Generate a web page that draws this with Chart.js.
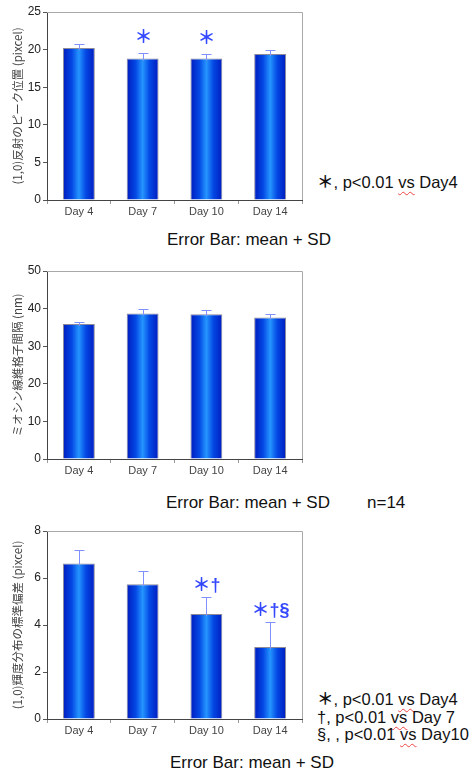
<!DOCTYPE html>
<html>
<head>
<meta charset="utf-8">
<script src="https://cdn.jsdelivr.net/npm/chart.js@4.4.1/dist/chart.umd.min.js"></script>
<style>
  body { margin: 0; background: #fff; width: 471px; height: 770px; position: relative; overflow: hidden;
         font-family: "Liberation Sans", "Noto Sans CJK JP", Arial, sans-serif; color: #111; }
  canvas { position: absolute; left: 0; }
  .note { position: absolute; font-size: 17px; line-height: 20px; white-space: nowrap; }
  .leg { position: absolute; left: 317px; font-size: 16.5px; line-height: 17.5px; white-space: nowrap; }
  .leg b { font-weight: 600; }
  .sp { text-decoration: underline wavy #e44; text-underline-offset: 3px; text-decoration-thickness: 1px; }
</style>
</head>
<body>
<canvas id="peak" width="310" height="225" style="top:0px"></canvas>
<canvas id="spacing" width="310" height="225" style="top:259px"></canvas>
<canvas id="spread" width="310" height="225" style="top:519px"></canvas>

<div class="leg" style="top:174px"><b>＊</b>, p&lt;0.01 <span class="sp">vs</span> Day4</div>
<div class="note" style="left:167px;top:230px">Error Bar: mean + SD</div>

<div class="note" style="left:166px;top:493px">Error Bar: mean + SD</div>
<div class="note" style="left:367px;top:493px">n=14</div>

<div class="leg" style="top:691px"><b>＊</b>, p&lt;0.01 <span class="sp">vs</span> Day4<br>†, p&lt;0.01 <span class="sp">vs</span> Day 7<br>§, , p&lt;0.01 <span class="sp">vs</span> Day10</div>
<div class="note" style="left:170px;top:753px">Error Bar: mean + SD</div>

<script>
'use strict';

/* DATA */
const days = ['Day 4', 'Day 7', 'Day 10', 'Day 14'];

const peakMean = [20.2, 18.8, 18.8, 19.4];
const peakSD = [0.5, 0.7, 0.55, 0.55];
const peakMarks = ['', '＊', '＊', ''];
const peakTicks = { max: 25, step: 5 };

const spacingMean = [35.9, 38.7, 38.5, 37.6];
const spacingSD = [0.6, 1.3, 1.0, 1.0];
const spacingMarks = ['', '', '', ''];
const spacingTicks = { max: 50, step: 10 };

const spreadMean = [6.62, 5.73, 4.47, 3.06];
const spreadSD = [0.57, 0.58, 0.72, 1.07];
const spreadMarks = ['', '', '＊†', '＊†§'];
const spreadTicks = { max: 8, step: 2 };

Chart.defaults.font.family = '"Liberation Sans", Arial, sans-serif';
Chart.defaults.color = '#333';

/* gradient fill for each bar, dark edges and light middle */
function barFill(ctx) {
  const chart = ctx.chart;
  const xs = chart.scales.x;
  if (ctx.type !== 'data' || !xs || !chart.chartArea) return '#0a3ee0';
  const cx = xs.getPixelForValue(ctx.dataIndex);
  const half = xs.width / days.length * 0.5 / 2;
  const g = chart.ctx.createLinearGradient(cx - half, 0, cx + half, 0);
  g.addColorStop(0, '#001cbf');
  g.addColorStop(0.28, '#0448e4');
  g.addColorStop(0.5, '#2595ff');
  g.addColorStop(0.72, '#0448e4');
  g.addColorStop(1, '#001cbf');
  return g;
}

/* frame, error bars (mean + SD) and significance marks */
const extras = {
  id: 'extras',
  afterDatasetsDraw(chart, args, opts) {
    const { ctx, chartArea: a, scales: { y } } = chart;
    ctx.save();
    ctx.strokeStyle = '#a8a8a8';
    ctx.lineWidth = 1;
    ctx.beginPath();
    ctx.moveTo(a.left, a.top + 0.5);
    ctx.lineTo(Math.round(a.right) + 0.5, a.top + 0.5);
    ctx.lineTo(Math.round(a.right) + 0.5, a.bottom);
    ctx.stroke();

    const meta = chart.getDatasetMeta(0);
    const vals = chart.data.datasets[0].data;
    opts.sd.forEach((s, i) => {
      const bar = meta.data[i];
      const top = Math.round(y.getPixelForValue(vals[i] + s)) + 0.5;
      const cx = Math.round(bar.x) + 0.5;
      ctx.strokeStyle = '#8190ff';
      ctx.beginPath();
      ctx.moveTo(cx, bar.y + 2);
      ctx.lineTo(cx, top);
      ctx.moveTo(cx - 5, top);
      ctx.lineTo(cx + 5, top);
      ctx.stroke();
      if (opts.marks[i]) {
        ctx.fillStyle = '#3347ff';
        ctx.font = 'bold 18px "Liberation Sans", "Noto Sans CJK JP"';
        ctx.textAlign = 'center';
        ctx.textBaseline = 'bottom';
        ctx.fillText(opts.marks[i], cx, top - opts.gap);
      }
    });
    ctx.restore();
  }
};

function makeChart(id, means, sds, marks, gap, ticks, title) {
  return new Chart(document.getElementById(id), {
    type: 'bar',
    data: {
      labels: days,
      datasets: [{
        data: means,
        backgroundColor: barFill,
        borderColor: '#8b8b99',
        borderWidth: 1,
        borderSkipped: 'bottom',
        barPercentage: 0.5,
        categoryPercentage: 1.0
      }]
    },
    options: {
      responsive: false,
      animation: false,
      layout: { padding: { top: 12, right: 8, left: 0, bottom: 0 } },
      plugins: {
        legend: { display: false },
        tooltip: { enabled: false },
        extras: { sd: sds, marks: marks, gap: gap }
      },
      scales: {
        x: {
          afterFit(scale) { scale.height = 25; },
          grid: { offset: true, drawOnChartArea: false, tickLength: 4, color: '#9a9a9a' },
          border: { color: '#444' },
          ticks: { font: { size: 11 }, color: '#444', padding: 1 }
        },
        y: {
          min: 0,
          max: ticks.max,
          afterFit(scale) { scale.width = 47; },
          grid: { drawOnChartArea: false, tickLength: 4, color: '#555' },
          border: { color: '#444' },
          ticks: { stepSize: ticks.step, font: { size: 12 }, color: '#222', padding: 2 },
          title: {
            display: true,
            text: title,
            font: { size: 11.5, family: '"Noto Sans CJK JP"' },
            color: '#444',
            padding: { top: 11, bottom: 0 }
          }
        }
      }
    },
    plugins: [extras]
  });
}

makeChart('peak', peakMean, peakSD, peakMarks, 6, peakTicks, '(1,0)反射のピーク位置 (pixcel)');
makeChart('spacing', spacingMean, spacingSD, spacingMarks, 2, spacingTicks, 'ミオシン線維格子間隔 (nm)');
makeChart('spread', spreadMean, spreadSD, spreadMarks, 2, spreadTicks, '(1,0)輝度分布の標準偏差 (pixcel)');
</script>
</body>
</html>
